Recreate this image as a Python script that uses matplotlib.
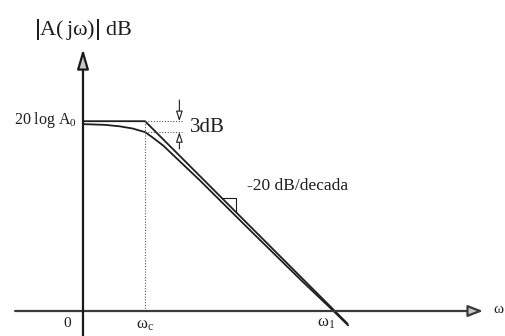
import matplotlib
matplotlib.use("Agg")
import matplotlib.pyplot as plt

plt.rcParams['mathtext.fontset'] = 'stix'
plt.rcParams['font.family'] = ['Liberation Serif', 'DejaVu Serif']

# ---- data (x in decades of omega, y in dB) ----
A0_dB = 52.0            # 20 log A0
wc_dec = 0.85           # corner frequency omega_c (decades)
w1_dec = 3.45           # unity-gain frequency omega_1 (decades)
slope_db_per_dec = -20.0

asym_x = [0.0, 0.85, 3.63]
asym_y = [52.0, 52.0, -3.6]

real_x = [0.00, 0.30, 0.50, 0.68, 0.85, 0.95, 1.10, 1.60, 2.30, 3.00, 3.40, 3.63]
real_y = [51.2, 51.0, 50.6, 50.0, 49.0, 47.6, 45.3, 35.8, 21.9, 8.2, 0.6, -3.9]

drop_3db = 3.0

fig = plt.figure(figsize=(5.06, 3.36), dpi=100)
ax = fig.add_axes([0, 0, 1, 1])
px_per_dec = 73.0
px_per_db = 3.65
ax.set_xlim(-83 / px_per_dec, (506 - 83) / px_per_dec)
ax.set_ylim((311 - 336) / px_per_db, 311 / px_per_db)
ax.axis('off')

ink = '#1e1e1e'

# axes with arrows
ax.annotate('', xy=(5.48, 0), xytext=(-0.93, 0),
            arrowprops=dict(arrowstyle='-|>,head_length=0.9,head_width=0.35',
                            fc='#c8c8c8', ec='#3a3a3a', lw=1.6, shrinkA=0, shrinkB=0))
ax.annotate('', xy=(0, 71.8), xytext=(0, -8),
            arrowprops=dict(arrowstyle='-|>,head_length=1.2,head_width=0.35',
                            fc='#c8c8c8', ec='#1a1a1a', lw=1.6, shrinkA=0, shrinkB=0))

# asymptote and real curve
ax.plot(asym_x, asym_y, color=ink, lw=1.3, solid_capstyle='butt')
ax.plot(real_x, real_y, color=ink, lw=1.3)

# omega_c dotted vertical
ax.plot([wc_dec, wc_dec], [0, A0_dB], color='#555555', lw=0.8, ls=(0, (1, 1.5)))

# 3 dB marker lines
x_mark = 1.32
ax.plot([wc_dec, x_mark + 0.04], [A0_dB, A0_dB], color='#555555', lw=0.8, ls=(0, (1, 1.5)))
ax.plot([wc_dec, x_mark + 0.04], [A0_dB - drop_3db, A0_dB - drop_3db], color='#555555', lw=0.8, ls=(0, (1, 1.5)))
ax.annotate('', xy=(x_mark, A0_dB), xytext=(x_mark, A0_dB + 5.8),
            arrowprops=dict(arrowstyle='-|>,head_length=0.6,head_width=0.2',
                            fc='white', ec=ink, lw=0.8, shrinkA=0, shrinkB=0))
ax.annotate('', xy=(x_mark, A0_dB - drop_3db), xytext=(x_mark, A0_dB - drop_3db - 4.6),
            arrowprops=dict(arrowstyle='-|>,head_length=0.6,head_width=0.2',
                            fc='white', ec=ink, lw=0.8, shrinkA=0, shrinkB=0))

# slope triangle attached to asymptote
tri_x0 = 1.90
tri_w = 0.19
y_start = A0_dB + slope_db_per_dec * (tri_x0 - wc_dec)
y_end = A0_dB + slope_db_per_dec * (tri_x0 + tri_w - wc_dec)
ax.plot([tri_x0, tri_x0 + tri_w, tri_x0 + tri_w], [y_start, y_start, y_end],
        color=ink, lw=0.8)

# texts
ax.text(0.0, 77.0, r'$\mathregular{\left|A(\,j\omega)\right|\ dB}$',
        ha='center', va='center', fontsize=16, color=ink)
ax.text(-0.08, 52.3, r'$\mathregular{20\ log\ A_0}$', ha='right', va='center',
        fontsize=11.5, color=ink)
ax.text(1.47, 50.4, '3dB', ha='left', va='center', fontsize=15, color=ink)
ax.text(2.25, 34.2, '-20 dB/decada', ha='left', va='center', fontsize=12.5, color=ink)
ax.text(-0.22, -3.4, '0', ha='center', va='center', fontsize=11, color=ink)
ax.text(wc_dec, -3.9, r'$\mathregular{ω_c}$', ha='center', va='center', fontsize=12, color=ink)
ax.text(3.33, -3.2, r'$\mathregular{ω_1}$', ha='center', va='center', fontsize=12, color=ink)
ax.text(5.62, 0.3, 'ω', ha='left', va='center', fontsize=11, color=ink)

fig.savefig('out.png', dpi=100)
